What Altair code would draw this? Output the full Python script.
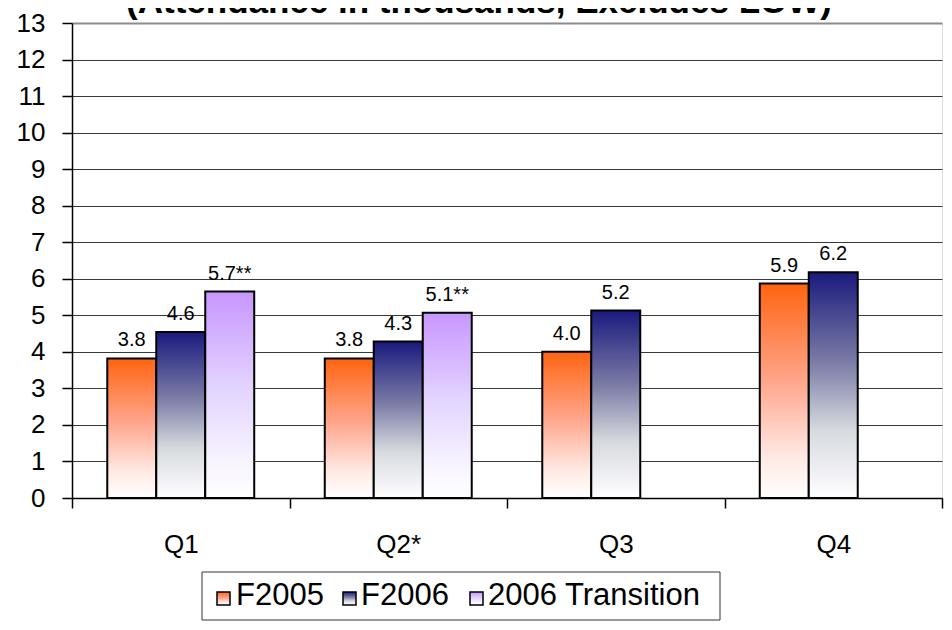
import altair as alt
import pandas as pd

# ---- data ----
quarters = ["Q1", "Q2*", "Q3", "Q4"]
series = ["F2005", "F2006", "2006 Transition"]
f2005 = [3.82, 3.82, 4.0, 5.87]
f2006 = [4.54, 4.28, 5.13, 6.18]
transition = [5.65, 5.07, None, None]
f2005_labels = ["3.8", "3.8", "4.0", "5.9"]
f2006_labels = ["4.6", "4.3", "5.2", "6.2"]
transition_labels = ["5.7**", "5.1**", None, None]
y_ticks = list(range(0, 14))
title_text = "(Attendance in thousands, Excludes LOW)"

rows = []
for s, vals, labs in [("F2005", f2005, f2005_labels),
                      ("F2006", f2006, f2006_labels),
                      ("2006 Transition", transition, transition_labels)]:
    for q, v, l in zip(quarters, vals, labs):
        if v is not None:
            rows.append({"quarter": q, "series": s, "value": v, "label": l})
df = pd.DataFrame(rows)

FONT = "Liberation Sans"


def grad(stops):
    return {"gradient": "linear", "x1": 0, "y1": 0, "x2": 0, "y2": 1,
            "stops": [{"offset": o, "color": c} for o, c in stops]}


grads = {
    "F2005": grad([(0, "#FF6410"), (0.45, "#FFA48A"), (0.8, "#FFE8E2"), (1, "#FFFFFF")]),
    "F2006": grad([(0, "#1A1A7E"), (0.4, "#7C7CA6"), (0.7, "#D6DADE"), (0.9, "#F2F2F6"), (1, "#FFFFFF")]),
    "2006 Transition": grad([(0, "#C896FF"), (0.45, "#E2D2FF"), (0.8, "#F6F2FF"), (1, "#FFFFFF")]),
}

x_enc = alt.X(
    "quarter:N",
    sort=quarters,
    scale=alt.Scale(domain=quarters, paddingInner=0, paddingOuter=0),
    axis=alt.Axis(title=None, labelAngle=0, tickBand="extent", tickSize=10,
                  labelPadding=23, labelFontSize=26, labelFont=FONT,
                  labelColor="black", domainColor="black", tickColor="black",
                  domainWidth=1.5, tickWidth=1.5, grid=False),
)
xo_enc = alt.XOffset("series:N", sort=series,
                     scale=alt.Scale(domain=series, paddingInner=0, paddingOuter=0.72))
y_enc = alt.Y(
    "value:Q",
    scale=alt.Scale(domain=[0, 13], nice=False, zero=True),
    axis=alt.Axis(title=None, values=y_ticks, tickSize=10, labelPadding=17,
                  labelFontSize=26, labelFont=FONT, labelColor="black",
                  domainColor="black", tickColor="black", domainWidth=1.5,
                  tickWidth=1.5, grid=True,
                  gridColor={"condition": {"test": "datum.value === 13", "value": "#8c8c8c"},
                             "value": "#3a3a3a"},
                  gridWidth={"condition": {"test": "datum.value === 13", "value": 2},
                             "value": 1}),
)

base = alt.Chart(df)
bar_layers = []
for s in series:
    bar_layers.append(
        base.transform_filter(alt.datum.series == s)
        .mark_bar(fill=grads[s], stroke="black", strokeWidth=2)
        .encode(x=x_enc, xOffset=xo_enc, y=y_enc)
    )

labels = base.mark_text(baseline="alphabetic", dy=-12, fontSize=20, font=FONT,
                        color="black").encode(x=x_enc, xOffset=xo_enc, y=y_enc,
                                              text="label:N")

one = alt.Data(values=[{"k": 0}])

title = alt.Chart(one).mark_text(text=title_text, font=FONT, fontSize=35,
                                 fontWeight="bold", align="center",
                                 baseline="alphabetic", color="black").encode(
    x=alt.value(407), y=alt.value(-10))

legend_box = alt.Chart(one).mark_rect(fill="white", stroke="#333333",
                                      strokeWidth=1).encode(
    x=alt.value(130), x2=alt.value(648), y=alt.value(549), y2=alt.value(597))

legend_parts = [legend_box]
sym_x = [145, 271, 398]
txt_x = [164, 289, 416]
for s, sx, tx in zip(series, sym_x, txt_x):
    legend_parts.append(
        alt.Chart(one).mark_rect(fill=grads[s], stroke="black", strokeWidth=1.5).encode(
            x=alt.value(sx), x2=alt.value(sx + 13), y=alt.value(569), y2=alt.value(582))
    )
    legend_parts.append(
        alt.Chart(one).mark_text(text=s, font=FONT, fontSize=31, align="left",
                                 baseline="alphabetic", color="black").encode(
            x=alt.value(tx), y=alt.value(582))
    )

chart = alt.layer(*bar_layers, labels, title, *legend_parts).properties(
    width=870,
    height=475,
    padding={"left": 64, "top": 15, "right": 2, "bottom": 124},
    autosize=alt.AutoSizeParams(type="none"),
).configure_view(stroke="#8c8c8c", strokeWidth=2).configure(background="white")

chart.save("out.html", embed_options={"renderer": "svg", "actions": False})
